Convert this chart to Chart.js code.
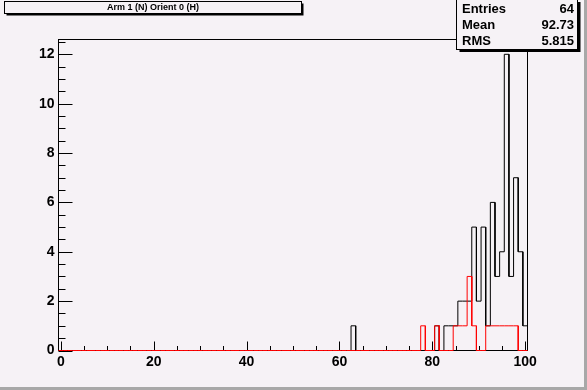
<!DOCTYPE html>
<html>
<head>
<meta charset="utf-8">
<script src="https://cdn.jsdelivr.net/npm/chart.js@4/dist/chart.umd.min.js"></script>
<style>
  html, body { margin: 0; padding: 0; background: #f6f2f6; }
</style>
</head>
<body>
<canvas id="histChart" width="587" height="390"></canvas>
<script>
// bin centres (1 unit wide bins, range -0.5 .. 100.5) and counts
const blackBins = [63, 81, 83, 84, 85, 86, 87, 88, 89, 90, 91, 92, 93, 94, 95, 96, 97, 98, 99, 100];
const blackCounts = [1, 1, 1, 1, 1, 2, 2, 2, 5, 2, 5, 1, 6, 3, 4, 12, 3, 7, 4, 1];
const redBins = [78, 81, 85, 86, 87, 88, 89, 92, 93, 94, 95, 96, 97, 98];
const redCounts = [1, 1, 1, 1, 1, 3, 1, 1, 1, 1, 1, 1, 1, 1];

const xTickLabels = [0, 20, 40, 60, 80, 100];
const yTickLabels = [0, 2, 4, 6, 8, 10, 12];

const titleText = 'Arm 1 (N) Orient 0 (H)';
const statNames = ['Entries', 'Mean', 'RMS'];
const statValues = ['64', '92.73', '5.815'];

const BG = '#f6f2f6';

// turn bins into a histogram outline
function outline(bins, counts) {
  const full = new Array(101).fill(0);
  bins.forEach((b, i) => { full[b] = counts[i]; });
  const pts = [{ x: -0.5, y: 0 }];
  full.forEach((c, k) => {
    pts.push({ x: k - 0.5, y: c });
    pts.push({ x: k + 0.5, y: c });
  });
  pts.push({ x: 100.5, y: 0 });
  return pts;
}

const rootDecor = {
  id: 'rootDecor',
  beforeDraw(chart) {
    const c = chart.ctx;
    c.save();
    c.fillStyle = BG;
    c.fillRect(0, 0, chart.width, chart.height);
    c.restore();
  },
  beforeDatasetsDraw(chart) {
    const c = chart.ctx;
    const a = chart.chartArea;
    const xs = chart.scales.x, ys = chart.scales.y;
    c.save();
    c.strokeStyle = '#000';
    c.lineWidth = 1;
    // frame
    c.strokeRect(a.left, a.top, a.right - a.left, a.bottom - a.top);
    // x ticks (inside)
    c.beginPath();
    for (let v = 0; v <= 100; v += 5) {
      const px = Math.round(xs.getPixelForValue(v)) + 0.5;
      const len = xTickLabels.includes(v) ? 9 : 4.5;
      c.moveTo(px, a.bottom);
      c.lineTo(px, a.bottom - len);
    }
    // y ticks (inside)
    for (let v = 0; v <= 12.5; v += 0.5) {
      const py = Math.round(ys.getPixelForValue(v)) + 0.5;
      const len = yTickLabels.includes(v) ? 14 : 7;
      c.moveTo(a.left, py);
      c.lineTo(a.left + len, py);
    }
    c.stroke();
    c.restore();
  },
  afterDraw(chart) {
    const c = chart.ctx;
    c.save();
    c.strokeStyle = '#000';
    c.lineWidth = 1;

    // title box
    c.fillStyle = '#000';
    c.fillRect(6.5, 3.5, 297, 12);
    c.fillStyle = BG;
    c.fillRect(4.5, 1.5, 297, 12);
    c.strokeRect(4.5, 1.5, 297, 12);
    c.fillStyle = '#000';
    c.font = 'bold 9px "Liberation Sans", Arial, sans-serif';
    c.textAlign = 'center';
    c.textBaseline = 'middle';
    c.fillText(titleText, 153, 8);

    // stats box
    c.fillStyle = '#000';
    c.fillRect(459.5, 2, 121, 50);
    c.fillStyle = BG;
    c.fillRect(456.5, -1, 121, 50.5);
    c.strokeRect(456.5, -1, 121, 50.5);
    c.fillStyle = '#000';
    c.font = 'bold 13px "Liberation Sans", Arial, sans-serif';
    statNames.forEach((n, i) => {
      const y = 9 + i * 16;
      c.textAlign = 'left';
      c.fillText(n, 462, y);
      c.textAlign = 'right';
      c.fillText(statValues[i], 574, y);
    });

    // canvas bevel
    c.fillStyle = '#a8a8a8';
    c.fillRect(chart.width - 3, 0, 3, chart.height);
    c.fillRect(0, chart.height - 3, chart.width, 3);
    c.restore();
  }
};

const ctx = document.getElementById('histChart').getContext('2d');
new Chart(ctx, {
  type: 'line',
  data: {
    datasets: [
      {
        data: outline(redBins, redCounts),
        borderColor: '#ff0000',
        borderWidth: 1,
        pointRadius: 0,
        tension: 0,
        fill: false,
        clip: false,
        order: 0
      },
      {
        data: outline(blackBins, blackCounts),
        borderColor: '#000000',
        borderWidth: 1,
        pointRadius: 0,
        tension: 0,
        fill: false,
        clip: false,
        order: 1
      }
    ]
  },
  options: {
    responsive: false,
    animation: false,
    layout: { padding: { left: 0, right: 59.5, top: 39.5, bottom: 0 } },
    plugins: {
      legend: { display: false },
      tooltip: { enabled: false }
    },
    scales: {
      x: {
        type: 'linear',
        min: -0.5,
        max: 100.5,
        grid: { display: false, drawTicks: false, tickLength: 0 },
        border: { display: false },
        afterBuildTicks: s => { s.ticks = xTickLabels.map(v => ({ value: v })); },
        afterFit: s => { s.height = 39.5; },
        ticks: {
          color: '#000',
          padding: 3,
          maxRotation: 0,
          autoSkip: false,
          font: { family: '"Liberation Sans", Arial, sans-serif', size: 14, weight: 'bold' }
        }
      },
      y: {
        type: 'linear',
        min: 0,
        max: 12.6,
        grid: { display: false, drawTicks: false, tickLength: 0 },
        border: { display: false },
        afterBuildTicks: s => { s.ticks = yTickLabels.map(v => ({ value: v })); },
        afterFit: s => { s.width = 58.5; },
        ticks: {
          color: '#000',
          padding: 4,
          font: { family: '"Liberation Sans", Arial, sans-serif', size: 14, weight: 'bold' }
        }
      }
    }
  },
  plugins: [rootDecor]
});
</script>
</body>
</html>
